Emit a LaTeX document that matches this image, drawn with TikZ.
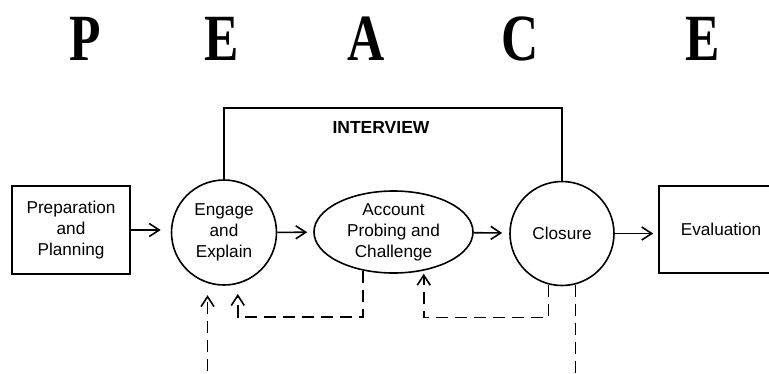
\documentclass[tikz,border=0pt]{standalone}
\usepackage{fontspec}
\setmainfont{Liberation Sans}
\newfontfamily\peacefont{Liberation Serif}
\usetikzlibrary{positioning,shapes.geometric,arrows.meta}

\begin{document}
\begin{tikzpicture}[x=1pt,y=-1pt,
  stage/.style={draw,line width=1.6pt,align=center,inner sep=0pt,
    font=\fontsize{17.2}{21}\selectfont},
  box/.style={stage,rectangle},
  ring/.style={stage,circle},
  oval/.style={stage,ellipse},
  letter/.style={font=\peacefont\bfseries\fontsize{66}{66}\selectfont,xscale=0.78,anchor=base,inner sep=0pt},
  arr/.style={line width=1.6pt,-{Straight Barb[length=10pt,width=13pt]}},
  fb/.style={arr,dash pattern=on 12pt off 7pt},
  fbline/.style={line width=1.6pt,dash pattern=on 12pt off 7pt}]
\useasboundingbox (0,0) rectangle (769,373);
\clip (0,0) rectangle (769,373);
% PEACE letters
\node[letter] (lp)  at (85.5,60) {P};
\node[letter] (le1) at (222,60) {E};
\node[letter] (la)  at (366,60) {A};
\node[letter] (lc)  at (520,60) {C};
\node[letter] (le2) at (703,60) {E};
% stages
\node[box,minimum width=118pt,minimum height=88pt] (prep) at (71,230) {Preparation\\and\\Planning};
\node[ring,minimum size=105pt] (engage) at (224,232.5) {Engage\\and\\Explain};
\node[oval,minimum width=159pt,minimum height=82pt] (account) at (393.5,232) {Account\\Probing and\\Challenge};
\node[ring,minimum size=104pt] (closure) at (562,233.5) {Closure};
\node[box,minimum width=124pt,minimum height=87pt] (eval) at (721,229.5) {Evaluation};
\node[font=\bfseries\fontsize{17.5}{20}\selectfont] (interview) at (381,127) {INTERVIEW};
\coordinate (roof) at (0,108);
\coordinate (floor) at (0,390);
% interview bracket
\draw[line width=1.6pt] (engage.north) -- (engage.north |- roof) -| (closure.north);
% main flow
\draw[arr,shorten >=10pt] (prep.east) -- (prep.east -| engage.west);
\draw[arr,shorten >=6pt] (engage) -- (account);
\draw[arr,shorten >=7pt] (account) -- (closure);
\draw[arr,shorten >=5pt] (closure.east) -- (closure.east -| eval.west);
% feedback loops
\draw[fb,shorten >=12pt] (engage.252 |- floor) -- (engage.252);
\draw[fb,shorten >=10pt] (account.232) -- ++(0,46) -| (engage.285);
\draw[fb,shorten >=3pt] (closure.255) -- ++(0,33) -| (account.308);
\draw[fbline] (closure.285) -- (closure.285 |- floor);
\end{tikzpicture}
\end{document}
